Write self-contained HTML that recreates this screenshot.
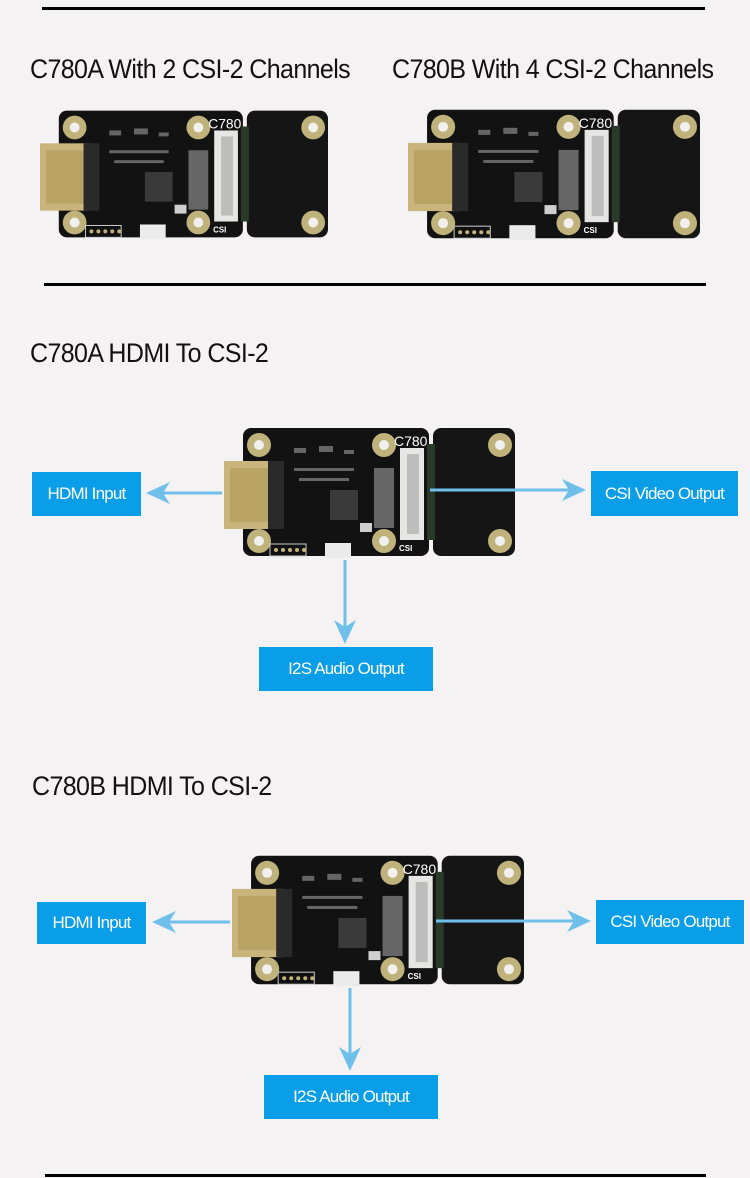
<!DOCTYPE html>
<html><head><meta charset="utf-8"><style>
html,body{margin:0;padding:0}
body{width:750px;height:1178px;background:#f5f2f3;position:relative;overflow:hidden;font-family:"Liberation Sans",sans-serif}
.line{position:absolute;height:3px;background:#000}
.t{position:absolute;font-size:25px;color:#111;white-space:nowrap;letter-spacing:-0.6px;transform:scaleY(1.08);transform-origin:left top}
.box{position:absolute;background:#0a9de8;color:#fff;font-family:"Liberation Sans",sans-serif;font-size:17px;letter-spacing:-0.8px;display:flex;align-items:center;justify-content:center}
svg{position:absolute;left:0;top:0}
</style></head><body>
<div class="line" style="left:42px;top:7px;width:663px"></div>
<div class="t" style="left:30px;top:54px">C780A With 2 CSI-2 Channels</div>
<div class="t" style="left:392px;top:54px">C780B With 4 CSI-2 Channels</div>
<div class="line" style="left:44px;top:283px;width:662px"></div>
<div class="t" style="left:30px;top:338px">C780A HDMI To CSI-2</div>
<div class="t" style="left:32px;top:771px">C780B HDMI To CSI-2</div>
<div class="line" style="left:45px;top:1174px;width:661px"></div>

<div class="box" style="left:32px;top:472px;width:109px;height:44px">HDMI Input</div>
<div class="box" style="left:591px;top:471px;width:147px;height:45px">CSI Video Output</div>
<div class="box" style="left:259px;top:647px;width:174px;height:44px">I2S Audio Output</div>
<div class="box" style="left:37px;top:902px;width:109px;height:42px">HDMI Input</div>
<div class="box" style="left:596px;top:900px;width:148px;height:44px">CSI Video Output</div>
<div class="box" style="left:264px;top:1075px;width:174px;height:44px">I2S Audio Output</div>

<svg width="750" height="1178" viewBox="0 0 750 1178">
<defs>
<symbol id="b" viewBox="0 0 291 130">
 <rect x="19" y="0" width="186" height="128" rx="8" fill="#121212"/>
 <rect x="209" y="0" width="82" height="128" rx="8" fill="#151515"/>
 <rect x="203" y="16" width="8" height="96" fill="#2a3a2a"/>
 <g fill="#bfb27a"><circle cx="35" cy="17" r="12"/><circle cx="160" cy="17" r="12"/><circle cx="35" cy="113" r="12"/><circle cx="160" cy="113" r="12"/><circle cx="276" cy="17" r="12"/><circle cx="276" cy="113" r="12"/></g>
 <g fill="#f2f0ee"><circle cx="35" cy="17" r="5"/><circle cx="160" cy="17" r="5"/><circle cx="35" cy="113" r="5"/><circle cx="160" cy="113" r="5"/><circle cx="276" cy="17" r="5"/><circle cx="276" cy="113" r="5"/></g>
 <rect x="0" y="33" width="50" height="68" fill="#c9b47c"/>
 <rect x="6" y="40" width="38" height="54" fill="#b9a466"/>
 <rect x="44" y="33" width="16" height="68" fill="#2a2a2a"/>
 <rect x="176" y="20" width="24" height="92" fill="#e6e6e4"/>
 <rect x="183" y="26" width="12" height="80" fill="#bdbdbd"/>
 <rect x="106" y="62" width="28" height="30" fill="#3a3a3a"/>
 <rect x="136" y="95" width="12" height="9" fill="#cfcfcf"/>
 <g fill="#666"><rect x="70" y="20" width="12" height="5"/><rect x="95" y="18" width="14" height="6"/><rect x="120" y="22" width="10" height="4"/><rect x="70" y="40" width="60" height="3"/><rect x="75" y="50" width="50" height="3"/><rect x="150" y="40" width="20" height="60"/></g>
 <rect x="46" y="116" width="36" height="12" fill="#111" stroke="#ccc" stroke-width="1"/>
 <g fill="#c3b27a"><circle cx="52" cy="122" r="2"/><circle cx="59" cy="122" r="2"/><circle cx="66" cy="122" r="2"/><circle cx="73" cy="122" r="2"/><circle cx="80" cy="122" r="2"/></g>
 <rect x="101" y="115" width="26" height="15" fill="#ebebeb"/>
 <text x="170" y="18" fill="#fff" font-family="Liberation Sans,sans-serif" font-size="14">C780</text>
 <text x="175" y="123" fill="#fff" font-family="Liberation Sans,sans-serif" font-size="8" font-weight="bold">CSI</text>
</symbol>
</defs>
<use href="#b" x="40" y="108" width="288" height="134"/>
<use href="#b" x="408" y="108" width="292" height="134"/>
<use href="#b" x="224" y="428" width="291" height="130"/>
<use href="#b" x="232" y="855" width="292" height="132"/>
<g stroke="#6ec0ea" stroke-width="3" fill="none">
 <line x1="222" y1="493" x2="160" y2="493"/>
 <line x1="430" y1="490" x2="570" y2="490"/>
 <line x1="345" y1="560" x2="345" y2="630"/>
 <line x1="230" y1="922" x2="166" y2="922"/>
 <line x1="436" y1="921" x2="575" y2="921"/>
 <line x1="350" y1="988" x2="350" y2="1056"/>
</g>
<g fill="#6ec0ea">
 <path d="M146,493 L170,482 L163,493 L170,504 Z"/>
 <path d="M586,490 L562,479 L569,490 L562,501 Z"/>
 <path d="M345,644 L334,620 L345,627 L356,620 Z"/>
 <path d="M152,922 L176,911 L169,922 L176,933 Z"/>
 <path d="M591,921 L567,910 L574,921 L567,932 Z"/>
 <path d="M350,1071 L339,1047 L350,1054 L361,1047 Z"/>
</g>
</svg>
</body></html>
